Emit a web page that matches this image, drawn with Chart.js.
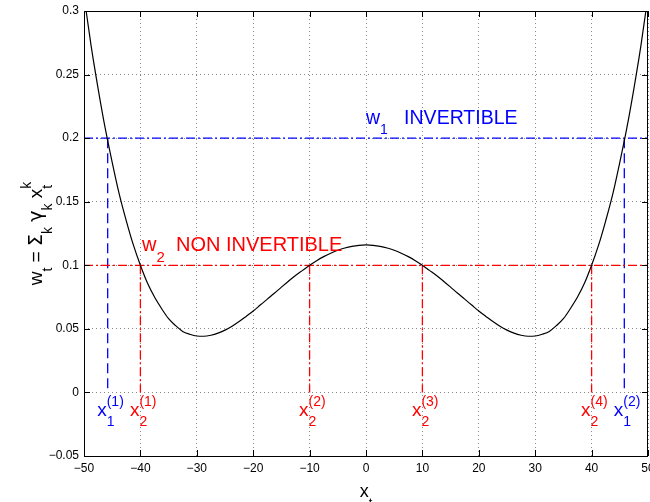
<!DOCTYPE html>
<html>
<head>
<meta charset="utf-8">
<script src="https://cdn.jsdelivr.net/npm/chart.js@4.4.0/dist/chart.umd.min.js"></script>
<style>
html, body { margin: 0; padding: 0; background: #fff; overflow: hidden; }
#wrap { width: 650px; height: 502px; }
</style>
</head>
<body>
<div id="wrap"><canvas id="plot" width="650" height="502"></canvas></div>
<script>
// curve w_t = sum_k gamma_k x_t^k
const xt = [-50, -48.75, -47.5, -46.25, -45, -43.75, -42.5, -41.25, -40, -38.75, -37.5, -36.25, -35, -33.75, -32.5, -31.25, -30,
            -28.75, -27.5, -26.25, -25, -23.75, -22.5, -21.25, -20, -18.75, -17.5, -16.25, -15, -13.75, -12.5, -11.25, -10,
            -8.75, -7.5, -6.25, -5, -3.75, -2.5, -1.25, 0, 1.25, 2.5, 3.75, 5, 6.25, 7.5, 8.75, 10,
            11.25, 12.5, 13.75, 15, 16.25, 17.5, 18.75, 20, 21.25, 22.5, 23.75, 25, 26.25, 27.5, 28.75, 30,
            31.25, 32.5, 33.75, 35, 36.25, 37.5, 38.75, 40, 41.25, 42.5, 43.75, 45, 46.25, 47.5, 48.75, 50];
const wt = [0.312, 0.273, 0.239, 0.208, 0.181, 0.156, 0.135, 0.116, 0.100, 0.086, 0.075, 0.066, 0.058, 0.0525, 0.048, 0.0458, 0.0444,
            0.0442, 0.045, 0.0466, 0.049, 0.052, 0.0557, 0.0598, 0.064, 0.0687, 0.0734, 0.078, 0.0828, 0.0875, 0.092, 0.096, 0.100,
            0.1036, 0.1068, 0.1095, 0.1118, 0.1136, 0.1149, 0.1157, 0.116, 0.1157, 0.1149, 0.1136, 0.1118, 0.1095, 0.1068, 0.1036, 0.100,
            0.096, 0.092, 0.0875, 0.0828, 0.078, 0.0734, 0.0687, 0.064, 0.0598, 0.0557, 0.052, 0.049, 0.0466, 0.045, 0.0442, 0.0444,
            0.0458, 0.048, 0.0525, 0.058, 0.066, 0.075, 0.086, 0.100, 0.116, 0.135, 0.156, 0.181, 0.208, 0.239, 0.273, 0.312];

// the two levels and the points where the curve crosses them
const w1 = 0.2;
const w2 = 0.1;
const rootsW1 = [-45.8, 45.8];
const rootsW2 = [-40, -10, 10, 40];

// tick values
const xTicks = [-50, -40, -30, -20, -10, 0, 10, 20, 30, 40, 50];
const yTicks = [-0.05, 0, 0.05, 0.1, 0.15, 0.2, 0.25, 0.3];

const FONT = '"Liberation Sans", Arial, Helvetica, sans-serif';
const GREEK = '"DejaVu Sans", sans-serif';
const BLUE = '#0000ff';
const RED = '#ff0000';
const DASHDOT = [9, 3, 2, 3];

// draws text like x_2^{(1)}: parts are [base, sub, sup, font of base (optional)]
function tex(ctx, x, y, parts, size, dry) {
    const small = Math.round(size * 0.74);
    let cx = x;
    for (const [b, sub, sup, fam] of parts) {
        ctx.font = size + 'px ' + (fam || FONT);
        if (!dry) ctx.fillText(b, cx, y);
        cx += ctx.measureText(b).width;
        ctx.font = small + 'px ' + FONT;
        let w = 0;
        if (sub) { if (!dry) ctx.fillText(sub, cx, y + size * 0.53); w = ctx.measureText(sub).width; }
        if (sup) { if (!dry) ctx.fillText(sup, cx, y - size * 0.53); w = Math.max(w, ctx.measureText(sup).width); }
        cx += w;
    }
    return cx - x;
}

const matlabLook = {
    id: 'matlabLook',
    afterDraw(chart) {
        const ctx = chart.ctx;
        const xs = chart.scales.x, ys = chart.scales.y;
        const a = chart.chartArea;
        ctx.save();

        // box and inward ticks
        ctx.strokeStyle = '#000';
        ctx.lineWidth = 1;
        ctx.setLineDash([]);
        ctx.strokeRect(a.left + 0.5, a.top + 0.5, a.right - a.left - 1, a.bottom - a.top);
        ctx.beginPath();
        xTicks.forEach(v => {
            const p = Math.round(xs.getPixelForValue(v)) + 0.5;
            ctx.moveTo(p, a.bottom); ctx.lineTo(p, a.bottom - 6);
            ctx.moveTo(p, a.top); ctx.lineTo(p, a.top + 6);
        });
        yTicks.forEach(v => {
            const p = Math.round(ys.getPixelForValue(v)) + 0.5;
            ctx.moveTo(a.left, p); ctx.lineTo(a.left + 6, p);
            ctx.moveTo(a.right, p); ctx.lineTo(a.right - 6, p);
        });
        ctx.stroke();

        ctx.textAlign = 'left';
        ctx.textBaseline = 'alphabetic';

        // level labels
        ctx.fillStyle = BLUE;
        tex(ctx, xs.getPixelForValue(0), ys.getPixelForValue(0.211), [['w', '1', ''], ['   INVERTIBLE', '', '']], 19.5);
        ctx.fillStyle = RED;
        tex(ctx, xs.getPixelForValue(-39.7), ys.getPixelForValue(0.111), [['w', '2', ''], ['  NON INVERTIBLE', '', '']], 20);

        // root labels under the zero line
        const base = ys.getPixelForValue(0) + 24;
        ctx.font = '19px ' + FONT;
        const wx = ctx.measureText('x').width;
        rootsW1.forEach((r, i) => {
            ctx.fillStyle = BLUE;
            tex(ctx, xs.getPixelForValue(r) - wx - 1, base, [['x', '1', '(' + (i + 1) + ')']], 19);
        });
        rootsW2.forEach((r, i) => {
            ctx.fillStyle = RED;
            tex(ctx, xs.getPixelForValue(r) - wx - 1, base, [['x', '2', '(' + (i + 1) + ')']], 19);
        });

        // axis labels
        ctx.fillStyle = '#000';
        const xl = [['x', 't', '']];
        const xw = tex(ctx, 0, 0, xl, 18, true);
        tex(ctx, (a.left + a.right) / 2 - xw / 2, 497, xl, 18);

        const yl = [['w', 't', ''], [' = ', '', ''], ['\u03A3', 'k', '', GREEK], [' ', '', ''], ['\u03B3', 'k', '', GREEK], [' x', 't', 'k']];
        const yw = tex(ctx, 0, 0, yl, 19, true);
        ctx.translate(41.5, (a.top + a.bottom) / 2);
        ctx.rotate(-Math.PI / 2);
        tex(ctx, -yw / 2, 0, yl, 19);
        ctx.restore();
    }
};

const curve = xt.map((x, i) => ({x: x, y: wt[i]}));

const datasets = [
    {data: curve, borderColor: '#000', borderWidth: 1.2, cubicInterpolationMode: 'monotone'},
    {data: [{x: -50, y: w1}, {x: 50, y: w1}], borderColor: BLUE, borderWidth: 1.3, borderDash: DASHDOT},
    {data: [{x: -50, y: w2}, {x: 50, y: w2}], borderColor: RED, borderWidth: 1.3, borderDash: DASHDOT}
];
rootsW1.forEach(r => datasets.push({data: [{x: r, y: w1}, {x: r, y: 0}], borderColor: BLUE, borderWidth: 1.3, borderDash: [10, 5]}));
rootsW2.forEach(r => datasets.push({data: [{x: r, y: w2}, {x: r, y: 0}], borderColor: RED, borderWidth: 1.3, borderDash: DASHDOT}));

function fmt(v) {
    return String(Number(v.toFixed(2))).replace('-', '\u2212');
}

new Chart(document.getElementById('plot'), {
    type: 'line',
    data: {datasets: datasets},
    options: {
        responsive: false,
        animation: false,
        devicePixelRatio: 1,
        layout: {autoPadding: false, padding: {left: 0, right: 2, top: 11, bottom: 0}},
        elements: {point: {radius: 0, hoverRadius: 0}, line: {tension: 0}},
        plugins: {legend: {display: false}, tooltip: {enabled: false}},
        events: [],
        scales: {
            x: {
                type: 'linear', min: -50, max: 50,
                afterBuildTicks: s => { s.ticks = xTicks.map(v => ({value: v})); },
                // let the "50" label run off the right edge like the original
                afterFit: s => { s.height = 46; s.paddingLeft = 0; s.paddingRight = 0; },
                grid: {color: '#888', lineWidth: 1, drawTicks: false},
                border: {display: false, dash: [1, 3]},
                ticks: {autoSkip: false, maxRotation: 0, padding: 5, color: '#000', font: {family: FONT, size: 12}, callback: v => fmt(v)}
            },
            y: {
                type: 'linear', min: -0.05, max: 0.3,
                afterBuildTicks: s => { s.ticks = yTicks.map(v => ({value: v})); },
                afterFit: s => { s.width = 84; s.paddingTop = 0; s.paddingBottom = 0; },
                grid: {color: '#888', lineWidth: 1, drawTicks: false},
                border: {display: false, dash: [1, 3]},
                ticks: {autoSkip: false, padding: 5, color: '#000', font: {family: FONT, size: 12}, callback: v => fmt(v)}
            }
        }
    },
    plugins: [matlabLook]
});
</script>
</body>
</html>
